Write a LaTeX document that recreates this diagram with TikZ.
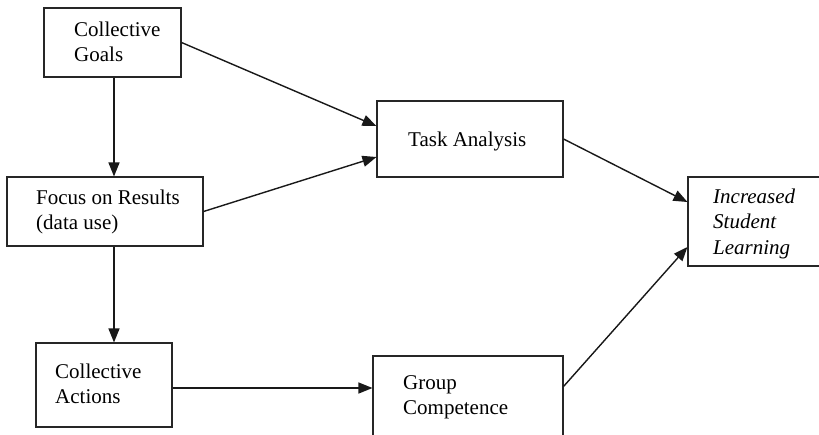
\documentclass[tikz,border=0pt]{standalone}
\usepackage{fontspec}
\setmainfont{Liberation Serif}
\usetikzlibrary{arrows.meta}
\begin{document}
\begin{tikzpicture}[x=1pt,y=-1pt,
  box/.style={draw=black!85, line width=1.1pt, minimum width=#1, inner sep=0pt},
  lbl/.style={anchor=base west, inner sep=0pt, font={\fontsize{21}{25.5}\selectfont}},
  conn/.style={line width=1.4pt, draw=black!90, -{Triangle[length=14pt,width=11pt]}}]
\clip (0,0) rectangle (819,434);
\fill[white] (0,0) rectangle (819,434);
% boxes
\node[box=137pt, minimum height=69pt] (cg) at (112.5,42.5) {};
\node[box=196pt, minimum height=69pt] (fr) at (105,211.5) {};
\node[box=136pt, minimum height=84pt] (ca) at (104,385) {};
\node[box=190pt, minimum height=120pt] (gc) at (468,416) {};
\node[box=186pt, minimum height=76pt] (ta) at (470,139) {};
\node[box=150pt, minimum height=89pt] (isl) at (763,221.5) {};
% labels
\node[lbl] (cgt) at (74,36) {\begin{tabular}[t]{@{}l@{}}Collective\\Goals\end{tabular}};
\node[lbl] (frt) at (36,204) {\begin{tabular}[t]{@{}l@{}}Focus on Results\\(data use)\end{tabular}};
\node[lbl] (cat) at (55,378) {\begin{tabular}[t]{@{}l@{}}Collective\\Actions\end{tabular}};
\node[lbl] (gct) at (403,389) {\begin{tabular}[t]{@{}l@{}}Group\\Competence\end{tabular}};
\node[lbl] (tat) at (408,146) {Task Analysis};
\node[lbl] (islt) at (713,203) {\itshape\begin{tabular}[t]{@{}l@{}}Increased\\Student\\Learning\end{tabular}};
% connectors
\draw[conn] (cg.east) -- ([yshift=13pt]ta.west);
\draw[conn] (fr.east) -- ([yshift=-18pt]ta.west);
\draw[conn] ([xshift=1.5pt]cg.south) -- ([xshift=1.5pt]cg.south |- fr.north);
\draw[conn] ([xshift=1.5pt]cg.south |- fr.south) -- ([xshift=1.5pt]cg.south |- ca.north);
\draw[conn] ([yshift=-3pt]ca.east) -- ([yshift=-3pt]ca.east -| gc.west);
\draw[conn] (ta.east) -- ([yshift=19.5pt]isl.west);
\draw[conn] ([yshift=-31pt]gc.north east) -- ([yshift=-25.5pt]isl.west);
\end{tikzpicture}
\end{document}
